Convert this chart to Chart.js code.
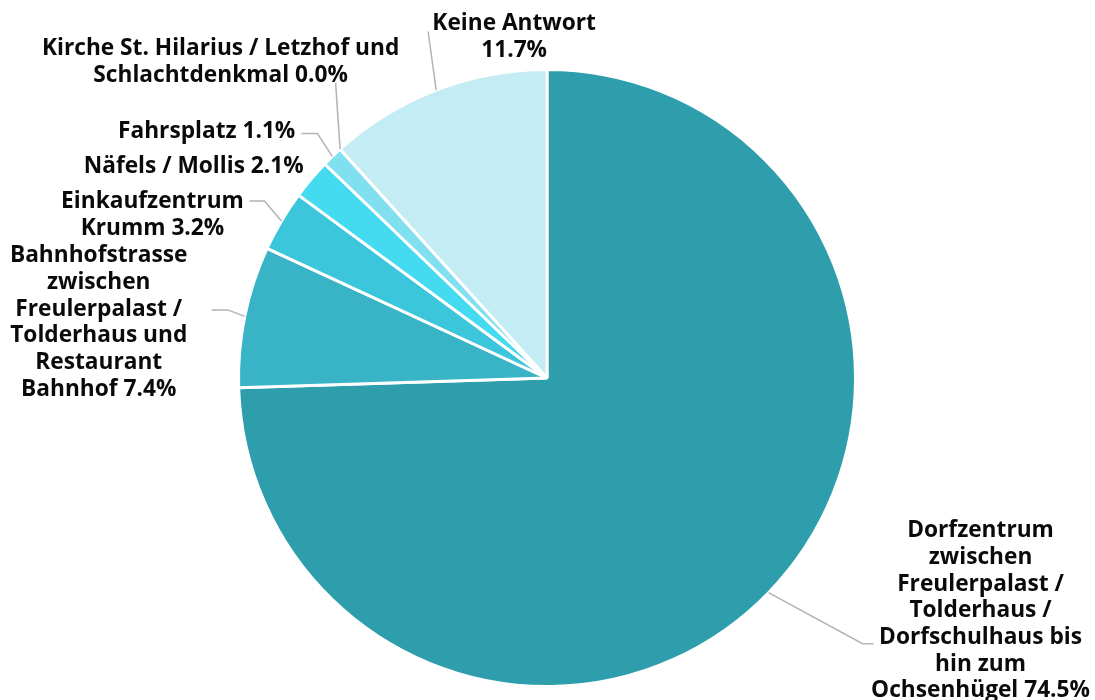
<!DOCTYPE html>
<html>
<head>
<meta charset="utf-8">
<script src="https://cdn.jsdelivr.net/npm/chart.js@4"></script>
<style>
  body { margin: 0; background: #fff; }
  #wrap { width: 1095px; height: 700px; position: relative; }
</style>
</head>
<body>
<div id="wrap"><canvas id="pieChart"></canvas></div>
<script>
// data
const categories = [
    'Dorfzentrum zwischen Freulerpalast / Tolderhaus / Dorfschulhaus bis hin zum Ochsenhügel',
    'Bahnhofstrasse zwischen Freulerpalast / Tolderhaus und Restaurant Bahnhof',
    'Einkaufzentrum Krumm',
    'Näfels / Mollis',
    'Fahrsplatz',
    'Kirche St. Hilarius / Letzhof und Schlachtdenkmal',
    'Keine Antwort'
];
const shares = [74.5, 7.4, 3.2, 2.1, 1.1, 0.0, 11.7];

// how each label is broken into lines (percentage is added to the last line)
const labelLines = [
    ['Dorfzentrum', 'zwischen', 'Freulerpalast /', 'Tolderhaus /', 'Dorfschulhaus bis', 'hin zum', 'Ochsenhügel'],
    ['Bahnhofstrasse', 'zwischen', 'Freulerpalast /', 'Tolderhaus und', 'Restaurant', 'Bahnhof'],
    ['Einkaufzentrum', 'Krumm'],
    ['Näfels / Mollis'],
    ['Fahrsplatz'],
    ['Kirche St. Hilarius / Letzhof und', 'Schlachtdenkmal'],
    ['Keine Antwort', '']
];

const sliceColors = ['#2f9eac', '#38b4c6', '#3cc6db', '#44daef', '#80e0f0', '#a8e8f4', '#c4ecf5'];

// label placement, relative to the middle of each arc's outer edge
const labelLayout = [
    {leader: [[94, 51], [105, 51]], text: [212, -62], align: 'center'},
    {leader: [[-17, -6.5], [-33, -6.5]], text: [-146, -60.5], align: 'center'},
    {leader: [[-17, -20], [-32, -20]], text: [-129, -19], align: 'center'},
    {leader: [], text: [-7.5, -12.5], align: 'right'},
    {leader: [[-15, -23], [-31, -23]], text: [-37, -25], align: 'right'},
    {leader: [[-4.5, -66.5]], text: [-119.5, -100.5], align: 'center'},
    {leader: [[-8, -58.6]], text: [78, -66.6], align: 'center'}
];

const lineHeight = 26.7;

const outerLabels = {
    id: 'outerLabels',
    afterDatasetsDraw(chart) {
        const ctx = chart.ctx;
        const meta = chart.getDatasetMeta(0);
        meta.data.forEach((arc, i) => {
            const p = arc.getProps(['x', 'y', 'startAngle', 'endAngle', 'outerRadius'], true);
            const mid = (p.startAngle + p.endAngle) / 2;
            const ax = p.x + Math.cos(mid) * p.outerRadius;
            const ay = p.y + Math.sin(mid) * p.outerRadius;
            const lay = labelLayout[i];

            if (lay.leader.length) {
                ctx.save();
                ctx.beginPath();
                ctx.moveTo(ax, ay);
                lay.leader.forEach(pt => ctx.lineTo(ax + pt[0], ay + pt[1]));
                ctx.strokeStyle = '#b3b3b3';
                ctx.lineWidth = 1.5;
                ctx.stroke();
                ctx.restore();
            }

            const lines = labelLines[i].slice();
            const pct = shares[i].toFixed(1) + '%';
            lines[lines.length - 1] = (lines[lines.length - 1] + ' ' + pct).trim();

            ctx.save();
            ctx.fillStyle = '#0a0a0a';
            ctx.font = 'bold 22.7px "Open Sans"';
            ctx.textAlign = lay.align;
            ctx.textBaseline = 'middle';
            lines.forEach((line, k) => {
                ctx.fillText(line, ax + lay.text[0], ay + lay.text[1] + k * lineHeight);
            });
            ctx.restore();
        });
    }
};

new Chart(document.getElementById('pieChart'), {
    type: 'pie',
    data: {
        labels: categories,
        datasets: [{
            data: shares,
            backgroundColor: sliceColors,
            borderColor: '#ffffff',
            borderWidth: 3
        }]
    },
    options: {
        responsive: true,
        maintainAspectRatio: false,
        animation: false,
        layout: {
            padding: {left: 237, right: 238, top: 68, bottom: 12}
        },
        plugins: {
            legend: {display: false},
            tooltip: {enabled: false}
        }
    },
    plugins: [outerLabels]
});
</script>
</body>
</html>
